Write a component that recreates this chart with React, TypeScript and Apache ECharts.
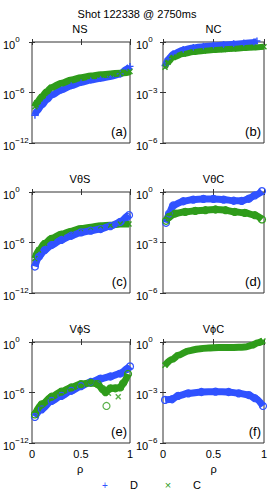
import React, { useEffect, useRef } from 'react';
import * as echarts from 'echarts';

// ---------- texts ----------
const mainTitle = 'Shot 122338 @ 2750ms';
const panelTitles = ['NS', 'NC', 'VθS', 'VθC', 'VϕS', 'VϕC'];
const panelTags = ['(a)', '(b)', '(c)', '(d)', '(e)', '(f)'];
const xLabel = 'ρ';
const legendNames = ['D', 'C'];
const xTicks = [0, 0.5, 1];
const yRangeS = [-12, 0]; // log10 range, S panels
const yRangeC = [-6, 0]; // log10 range, C panels

// ---------- data (log10 of the value) ----------
// (a) NS
const nsRho = [0.03, 0.05, 0.1, 0.15, 0.2, 0.3, 0.4, 0.5, 0.6, 0.7, 0.8, 0.9, 0.97, 1.0];
const nsD = [-8.7, -8.2, -7.5, -6.85, -6.3, -5.7, -5.2, -4.8, -4.5, -4.3, -4.1, -3.8, -3.2, -2.9];
const nsC = [-7.7, -7.2, -6.5, -5.9, -5.4, -4.9, -4.5, -4.25, -4.05, -3.9, -3.8, -3.7, -3.62, -3.5];
// (b) NC
const ncDRho = [0.02, 0.05, 0.1, 0.2, 0.3, 0.4, 0.5, 0.6, 0.7, 0.8, 0.9, 0.93];
const ncD = [-1.4, -1.0, -0.7, -0.44, -0.32, -0.25, -0.19, -0.15, -0.11, -0.06, 0.0, 0.06];
const ncCRho = [0.02, 0.05, 0.1, 0.2, 0.3, 0.4, 0.5, 0.6, 0.7, 0.8, 0.9, 1.0];
const ncC = [-1.5, -1.2, -0.92, -0.72, -0.6, -0.53, -0.48, -0.44, -0.4, -0.36, -0.32, -0.28];
// (c) VθS
const vtsRho = [0.03, 0.07, 0.13, 0.2, 0.3, 0.4, 0.5, 0.6, 0.7, 0.8, 0.9, 0.97, 0.99];
const vtsD = [-8.85, -7.7, -6.9, -6.3, -5.7, -5.2, -4.8, -4.6, -4.4, -4.05, -3.55, -2.95, -2.75];
const vtsC = [-7.9, -6.9, -6.1, -5.5, -5.0, -4.65, -4.35, -4.2, -4.0, -3.95, -3.8, -3.8, -3.8];
// (d) VθC
const vtcDRho = [0.03, 0.06, 0.1, 0.2, 0.3, 0.4, 0.5, 0.6, 0.7, 0.78, 0.85, 0.91, 0.98];
const vtcD = [-1.83, -1.28, -0.8, -0.55, -0.45, -0.41, -0.41, -0.45, -0.52, -0.53, -0.4, -0.2, 0.05];
const vtcCRho = [0.03, 0.06, 0.12, 0.22, 0.32, 0.42, 0.52, 0.62, 0.71, 0.81, 0.91, 0.98];
const vtcC = [-1.71, -1.48, -1.28, -1.18, -1.12, -1.08, -1.04, -1.08, -1.18, -1.24, -1.38, -1.63];
// (e) VϕS
const vpsDRho = [0.03, 0.1, 0.2, 0.3, 0.4, 0.5, 0.6, 0.7, 0.8, 0.9, 0.97, 1.0];
const vpsD = [-8.9, -8.0, -7.0, -6.4, -5.8, -5.25, -4.75, -4.35, -4.1, -3.75, -3.2, -2.9];
const vpsCRho = [0.03, 0.1, 0.2, 0.3, 0.4, 0.5, 0.6, 0.67, 0.72, 0.75, 0.8, 0.85, 0.9, 0.93, 0.98];
const vpsC = [-8.6, -7.4, -6.5, -5.9, -5.4, -5.0, -4.85, -5.0, -5.6, -5.95, -5.5, -5.5, -5.4, -4.9, -3.8];
const vpsOutCircleRho = [0.76];
const vpsOutCircle = [-7.6];
const vpsOutCrossRho = [0.88, 0.78];
const vpsOutCross = [-6.5, -6.1];
// (f) VϕC
const vpcDRho = [0.02, 0.09, 0.15, 0.25, 0.38, 0.52, 0.65, 0.75, 0.85, 0.91, 0.99];
const vpcD = [-3.44, -3.4, -3.2, -3.05, -2.97, -2.95, -2.97, -3.05, -3.15, -3.34, -3.8];
const vpcCRho = [0.02, 0.09, 0.15, 0.25, 0.35, 0.45, 0.55, 0.65, 0.75, 0.81, 0.88, 0.94, 0.99];
const vpcC = [-1.38, -1.04, -0.79, -0.53, -0.41, -0.35, -0.33, -0.33, -0.31, -0.3, -0.2, -0.04, 0.06];

// ---------- styles ----------
const FONT = "'Liberation Sans', Arial, Helvetica, sans-serif";
const BLUE = '#3052ff';
const GREEN = '#2f9c1b';
const AX = '#333333';
const PLUS = 'path://M4,0H6V4H10V6H6V10H4V6H0V4H4Z';

const pair = (xs: number[], ys: number[]) => xs.map((x, i) => [x, ys[i]]);

function markerStyle(color: string, marker: string) {
  const isCircle = marker === 'o';
  return {
    symbol: isCircle ? 'circle' : PLUS,
    symbolSize: 7,
    symbolRotate: marker === 'x' ? 45 : 0,
    itemStyle: isCircle
      ? { color: 'rgba(0,0,0,0)', borderColor: color, borderWidth: 1.2 }
      : { color, borderWidth: 0 },
  };
}

function band(idx: number, xs: number[], ys: number[], color: string, marker: string, width = 7) {
  return {
    type: 'line',
    xAxisIndex: idx * 2,
    yAxisIndex: idx * 2,
    data: pair(xs, ys),
    smooth: 0.3,
    smoothMonotone: 'x',
    clip: false,
    silent: true,
    showSymbol: true,
    ...markerStyle(color, marker),
    lineStyle: { color, width, cap: 'butt', join: 'round' },
    emphasis: { disabled: true },
  };
}

function points(idx: number, xs: number[], ys: number[], color: string, marker: string) {
  return {
    type: 'scatter',
    xAxisIndex: idx * 2,
    yAxisIndex: idx * 2,
    data: pair(xs, ys),
    silent: true,
    ...markerStyle(color, marker),
    emphasis: { disabled: true },
  };
}

export default function App() {
  const ref = useRef<HTMLDivElement>(null);

  useEffect(() => {
    if (!ref.current) return;
    const chart = echarts.init(ref.current, undefined, { renderer: 'svg' });

    const lefts = [30, 163];
    const widths = [100, 101];
    const tops = [42, 192, 342];
    const H = 101;

    const grids: any[] = [];
    const xAxes: any[] = [];
    const yAxes: any[] = [];
    const graphics: any[] = [];

    const textEl = (text: string, x: number, y: number, size: number, align = 'center', fill = '#000') => ({
      type: 'text',
      x,
      y,
      silent: true,
      style: {
        text,
        fill,
        font: `${size}px ${FONT}`,
        align,
        textAlign: align,
        verticalAlign: 'middle',
        textVerticalAlign: 'middle',
      },
    });

    graphics.push(textEl(mainTitle, 137, 14, 11));

    for (let i = 0; i < 6; i++) {
      const col = i % 2;
      const row = Math.floor(i / 2);
      const left = lefts[col];
      const width = widths[col];
      const top = tops[row];
      const range = col === 0 ? yRangeS : yRangeC;
      grids.push({
        left,
        top,
        width,
        height: H,
        show: true,
        borderColor: AX,
        borderWidth: 1,
        backgroundColor: 'rgba(0,0,0,0)',
        containLabel: false,
      });
      const xBase = {
        gridIndex: i,
        type: 'value',
        min: xTicks[0],
        max: xTicks[xTicks.length - 1],
        interval: xTicks[1] - xTicks[0],
        axisLine: { show: false },
        axisTick: { show: true, inside: true, length: 3, lineStyle: { color: AX } },
        splitLine: { show: false },
      };
      xAxes.push({
        ...xBase,
        position: 'bottom',
        axisLabel: {
          show: row === 2,
          color: '#000',
          fontSize: 11,
          fontFamily: FONT,
          margin: 5,
          formatter: (v: number) => String(v),
        },
      });
      xAxes.push({ ...xBase, position: 'top', axisLabel: { show: false } });
      const yBase = {
        gridIndex: i,
        type: 'value',
        min: range[0],
        max: range[1],
        interval: (range[1] - range[0]) / 2,
        axisLine: { show: false },
        axisTick: { show: true, inside: true, length: 3, lineStyle: { color: AX } },
        splitLine: { show: false },
      };
      yAxes.push({
        ...yBase,
        position: 'left',
        axisLabel: {
          show: true,
          align: 'left',
          margin: col === 0 ? 29 : 27,
          formatter: (v: number) => (v === 0 ? '{b|10}{e|0}' : `{b|10}{e|−${Math.round(-v)}}`),
          rich: {
            b: { fontSize: 11, fontFamily: FONT, color: '#000', padding: [5, 0, 0, 0] },
            e: { fontSize: 8, fontFamily: FONT, color: '#000', padding: [0, 0, 5, 0] },
          },
        },
      });
      yAxes.push({ ...yBase, position: 'right', axisLabel: { show: false } });

      const cx = left + width / 2;
      graphics.push(textEl(panelTitles[i], cx, top - 13, 11));
      graphics.push(textEl(panelTags[i], left + width - 3, top + H - 12, 13, 'right'));
      if (row === 2) graphics.push(textEl(xLabel, cx, 469, 11));
    }

    // legend
    graphics.push(textEl('+', 105, 485, 10, 'center', BLUE));
    graphics.push(textEl(legendNames[0], 134, 485, 11));
    graphics.push(textEl('×', 168, 485, 11, 'center', GREEN));
    graphics.push(textEl(legendNames[1], 197, 485, 11));

    const series: any[] = [
      // (a)
      band(0, nsRho, nsD, BLUE, '+'),
      band(0, nsRho, nsC, GREEN, 'x'),
      // (b)
      band(1, ncDRho, ncD, BLUE, '+', 6),
      band(1, ncCRho, ncC, GREEN, 'x', 6),
      // (c)
      band(2, vtsRho, vtsC, GREEN, 'x'),
      band(2, vtsRho, vtsD, BLUE, 'o'),
      // (d)
      band(3, vtcDRho, vtcD, BLUE, 'o'),
      band(3, vtcCRho, vtcC, GREEN, 'o'),
      // (e)
      band(4, vpsDRho, vpsD, BLUE, 'o'),
      band(4, vpsCRho, vpsC, GREEN, 'o'),
      points(4, vpsOutCircleRho, vpsOutCircle, GREEN, 'o'),
      points(4, vpsOutCrossRho, vpsOutCross, GREEN, 'x'),
      // (f)
      band(5, vpcCRho, vpcC, GREEN, 'x'),
      band(5, vpcDRho, vpcD, BLUE, 'o'),
    ];

    chart.setOption({
      animation: false,
      backgroundColor: '#fff',
      textStyle: { fontFamily: FONT },
      grid: grids,
      xAxis: xAxes,
      yAxis: yAxes,
      series,
      graphic: { elements: graphics },
    });

    return () => chart.dispose();
  }, []);

  return (
    <div
      ref={ref}
      style={{ position: 'fixed', left: 0, top: 0, width: 275, height: 496, background: '#fff' }}
    />
  );
}
